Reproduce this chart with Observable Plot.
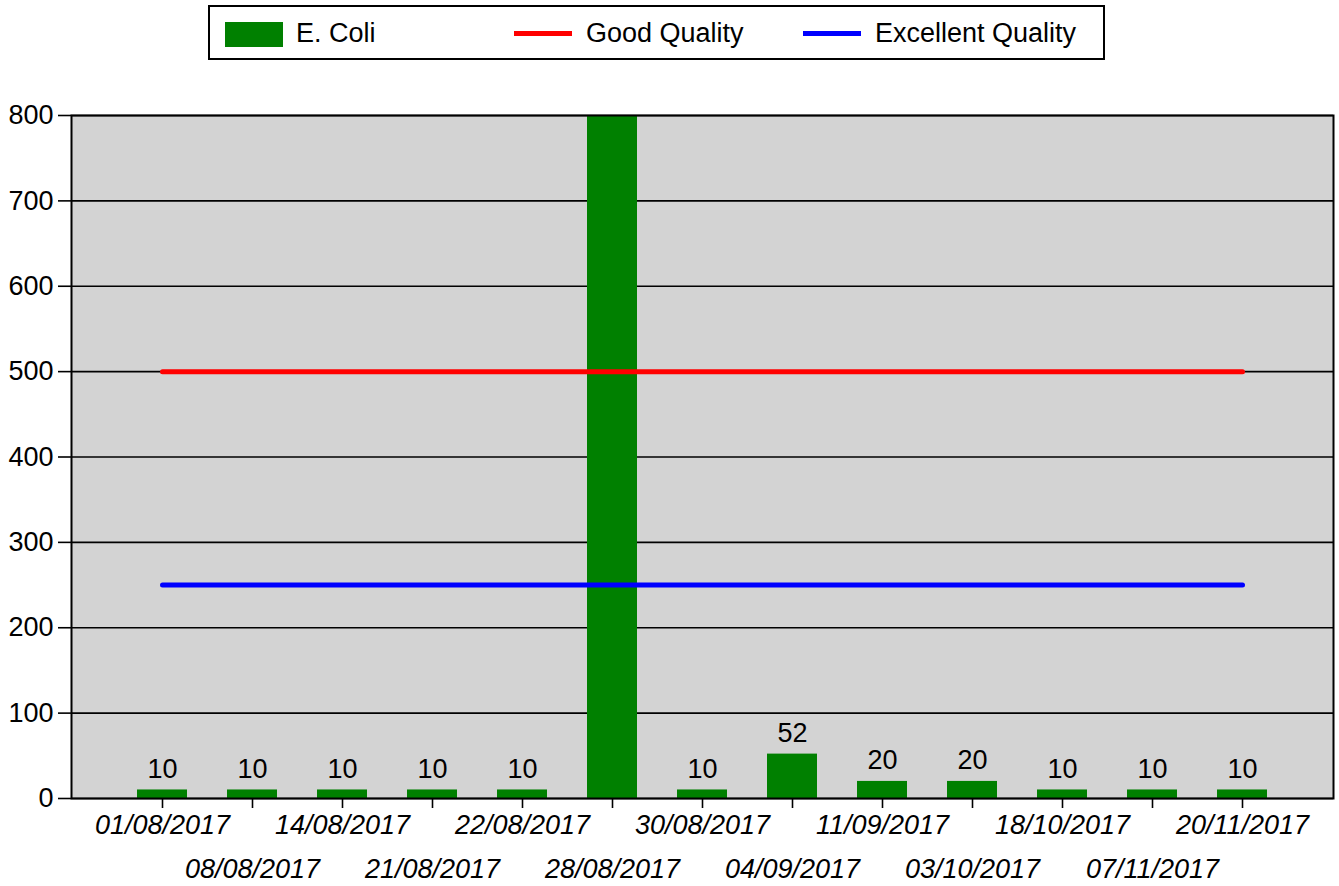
<!DOCTYPE html>
<html><head><meta charset="utf-8">
<script src="https://cdn.jsdelivr.net/npm/d3@7"></script>
<script src="https://cdn.jsdelivr.net/npm/@observablehq/plot@0.6"></script>
<style>
body{margin:0;background:#fff;font-family:"Liberation Sans",Arial,sans-serif;}
#wrap{position:relative;width:1339px;height:886px;overflow:hidden;}
#wrap svg{position:absolute;left:0;top:0;}
#legend{position:absolute;left:208px;top:5px;width:893px;height:51px;border:2px solid #000;background:#fff;}
.sw{position:absolute;}
.lt{position:absolute;font-size:27px;line-height:27px;top:20px;color:#000;white-space:nowrap;}
</style></head>
<body>
<div id="wrap">
  <div id="legend"></div>
  <div class="sw" style="left:225px;top:22px;width:58px;height:25px;background:#008000"></div>
  <div class="lt" style="left:296px">E. Coli</div>
  <div class="sw" style="left:514px;top:31px;width:58px;height:5px;background:#ff0000"></div>
  <div class="lt" style="left:586px">Good Quality</div>
  <div class="sw" style="left:803px;top:31px;width:58px;height:5px;background:#0000ff"></div>
  <div class="lt" style="left:875px">Excellent Quality</div>
</div>
<script>
const dates = ["01/08/2017","08/08/2017","14/08/2017","21/08/2017","22/08/2017","28/08/2017","30/08/2017","04/09/2017","11/09/2017","03/10/2017","18/10/2017","07/11/2017","20/11/2017"];
const ecoli = [10,10,10,10,10,1000,10,52,20,20,10,10,10];
const goodQuality = [500,500,500,500,500,500,500,500,500,500,500,500,500];
const excellentQuality = [250,250,250,250,250,250,250,250,250,250,250,250,250];
const yTicks = [0,100,200,300,400,500,600,700,800];

const data = dates.map((d,i)=>({date:d, ecoli:ecoli[i], good:goodQuality[i], excellent:excellentQuality[i]}));
const evenDates = dates.filter((d,i)=>i%2===0);
const oddDates = dates.filter((d,i)=>i%2===1);

const chart = Plot.plot({
  width:1339, height:886,
  marginTop:115, marginBottom:88, marginLeft:71, marginRight:6,
  style:{fontFamily:'"Liberation Sans", Arial, sans-serif', fontSize:"27px", background:"transparent", color:"black"},
  x:{type:"band", domain:dates, paddingInner:0.445, paddingOuter:0.7225, align:0.5, axis:null, label:null},
  y:{domain:[0,800], axis:null, label:null},
  marks:[
    Plot.frame({fill:"#d3d3d3"}),
    Plot.gridY({ticks:yTicks, stroke:"black", strokeOpacity:1, strokeWidth:1.6}),
    Plot.barY(data,{x:"date", y:"ecoli", fill:"#008000", clip:true}),
    Plot.lineY(data,{x:"date", y:"good", stroke:"#ff0000", strokeWidth:5}),
    Plot.lineY(data,{x:"date", y:"excellent", stroke:"#0000ff", strokeWidth:5}),
    Plot.text(data.filter(d=>d.ecoli<=800),{x:"date", y:"ecoli", text:d=>String(d.ecoli), lineAnchor:"bottom", dy:-12, fontSize:27, fill:"black"}),
    Plot.frame({stroke:"black", strokeWidth:2}),
    Plot.axisY({ticks:yTicks, tickSize:13, tickPadding:5, fontSize:27, stroke:"black", strokeWidth:1.6, tickFormat:d=>String(d), label:null}),
    Plot.axisX({ticks:evenDates, tickSize:10, tickPadding:6, fontSize:27, fontStyle:"italic", stroke:"black", strokeWidth:1.6, label:null}),
    Plot.axisX({ticks:oddDates, tickSize:10, tickPadding:50, fontSize:27, fontStyle:"italic", stroke:"black", strokeWidth:1.6, label:null})
  ]
});
document.getElementById("wrap").prepend(chart);
</script>
</body></html>
